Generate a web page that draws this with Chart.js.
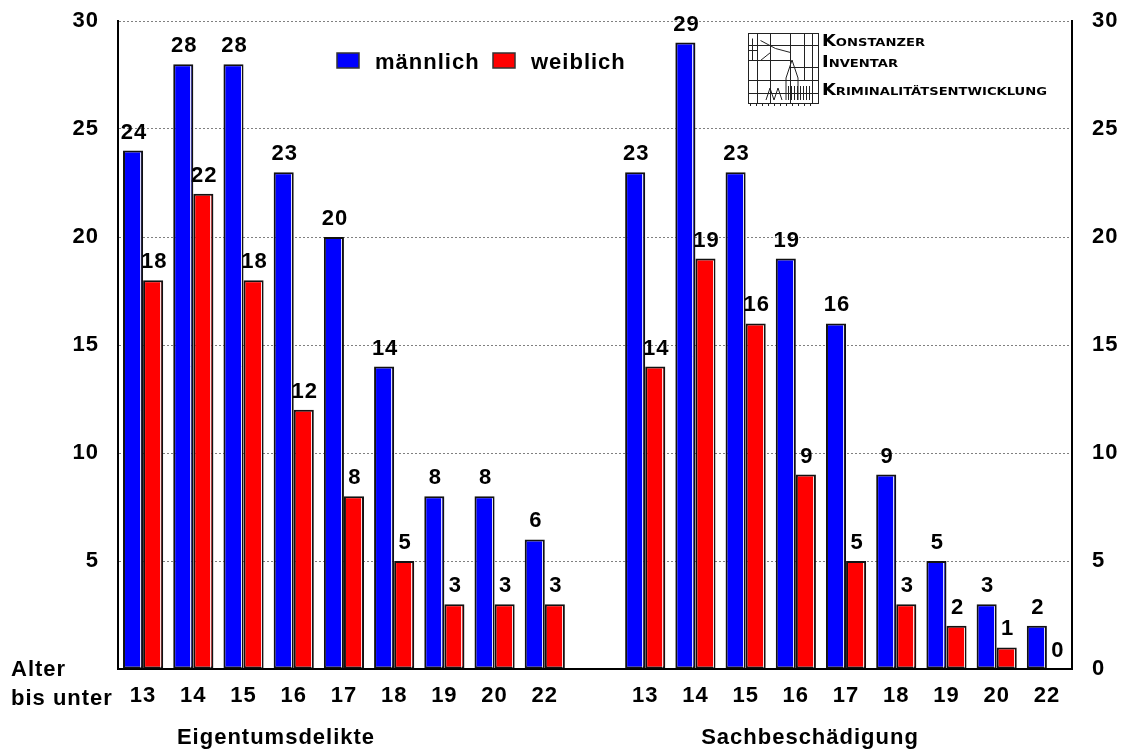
<!DOCTYPE html>
<html><head><meta charset="utf-8">
<script src="https://cdn.jsdelivr.net/npm/chart.js@4"></script>
<style>html,body{margin:0;padding:0;background:#fff}#wrap{width:1127px;height:749px}</style>
</head><body><div id="wrap"><canvas id="c" width="1127" height="749"></canvas></div>
<script>
const categories = ['13','14','15','16','17','18','19','20','22','','13','14','15','16','17','18','19','20','22'];
const maleValues = [24,28,28,23,20,14,8,8,6,null,23,29,23,19,16,9,5,3,2];
const femaleValues = [18,22,18,12,8,5,3,3,3,null,14,19,16,9,5,3,2,1,0];
const seriesNames = ['männlich','weiblich'];
const seriesColors = ['#0000ff','#ff0000'];
const groupTitles = ['Eigentumsdelikte','Sachbeschädigung'];
const axisTitleLines = ['Alter','bis unter'];
const logoLines = ['Konstanzer','Inventar','Kriminalitätsentwicklung'];

const FONT = 'Liberation Sans';
const tickFont = {family: FONT, size: 22, weight: 'bold'};
const SPACING = '1px';

const overlay = {
  id: 'overlay',
  beforeUpdate(chart) { chart.ctx.letterSpacing = SPACING; },
  beforeDraw(chart) { chart.ctx.letterSpacing = SPACING; },
  afterDatasetsDraw(chart) {
    const ctx = chart.ctx;
    ctx.save();
    // white inner highlight on bars
    chart.data.datasets.forEach((ds, di) => {
      const meta = chart.getDatasetMeta(di);
      meta.data.forEach((el, i) => {
        const v = ds.data[i];
        if (v == null || v === 0) return;
        const p = el.getProps(['x','y','base','width'], true);
        ctx.strokeStyle = 'rgba(255,255,255,0.85)';
        ctx.lineWidth = 1;
        ctx.beginPath();
        const xr = Math.round(p.x + p.width / 2 - 3) + 0.5;
        ctx.moveTo(xr, p.y + 2);
        ctx.lineTo(xr, p.base - 1);
        ctx.stroke();
      });
    });
    // value labels
    ctx.letterSpacing = SPACING;
    ctx.fillStyle = '#000';
    ctx.font = 'bold 22px "' + FONT + '"';
    ctx.textAlign = 'center';
    ctx.textBaseline = 'alphabetic';
    chart.data.datasets.forEach((ds, di) => {
      const meta = chart.getDatasetMeta(di);
      meta.data.forEach((el, i) => {
        const v = ds.data[i];
        if (v == null) return;
        const p = el.getProps(['x','y'], true);
        ctx.fillText(String(v), p.x + 1, p.y - 12);
      });
    });
    ctx.restore();
  },
  afterDraw(chart) {
    const ctx = chart.ctx;
    ctx.save();
    ctx.letterSpacing = SPACING;
    // legend
    ctx.font = 'bold 22px "' + FONT + '"';
    ctx.textBaseline = 'alphabetic';
    ctx.textAlign = 'left';
    const legendX = [337, 493];
    seriesNames.forEach((name, i) => {
      const bx = legendX[i], by = 53;
      ctx.fillStyle = seriesColors[i];
      ctx.fillRect(bx, by, 22, 15);
      ctx.strokeStyle = '#333';
      ctx.lineWidth = 1.5;
      ctx.strokeRect(bx, by, 22, 15);
      ctx.fillStyle = '#000';
      ctx.fillText(name, bx + 38, 69);
    });
    // axis title at left
    ctx.fillText(axisTitleLines[0], 11, 676);
    ctx.fillText(axisTitleLines[1], 11, 705);
    // group titles
    ctx.textAlign = 'center';
    ctx.fillText(groupTitles[0], 276, 744);
    ctx.fillText(groupTitles[1], 810, 744);

    // logo graphic
    ctx.strokeStyle = '#222';
    ctx.lineWidth = 1;
    const L = 748, T = 33, R = 818, B = 103;
    ctx.strokeRect(L + 0.5, T + 0.5, R - L, B - T);
    ctx.beginPath();
    [[757,T,757,B],[770,T,770,B],[790,T,790,B],[804,T,804,80],[812,T,812,B],
     [L,45,R,45],[L,60,790,60],[L,80,R,80],[L,93,R,93],[790,67,R,67],
     [760,40,775,48],[775,48,790,52],[760,60,770,52],[752,38,752,60],[748,50,757,50]].forEach(s => {
      ctx.moveTo(s[0] + 0.5, s[1] + 0.5); ctx.lineTo(s[2] + 0.5, s[3] + 0.5);
    });
    // spire
    ctx.moveTo(786, 100); ctx.lineTo(786, 78); ctx.lineTo(792, 60); ctx.lineTo(798, 78); ctx.lineTo(798, 100);
    for (let x = 788; x <= 810; x += 3) { ctx.moveTo(x + 0.5, 86); ctx.lineTo(x + 0.5, 100); }
    // zigzag
    ctx.moveTo(766, 100); ctx.lineTo(770, 88); ctx.lineTo(774, 100); ctx.lineTo(778, 88); ctx.lineTo(782, 100);
    for (let x = 750; x <= 815; x += 6) { ctx.moveTo(x + 0.5, 103); ctx.lineTo(x + 0.5, 106); }
    ctx.stroke();
    // logo text
    ctx.letterSpacing = '0px';
    ctx.fillStyle = '#000';
    ctx.textAlign = 'left';
    ctx.textBaseline = 'alphabetic';
    const targets = [[46, 925], [67, 898], [95, 1047]];
    logoLines.forEach((line, i) => {
      const first = line[0].toUpperCase();
      const rest = line.slice(1).toUpperCase();
      ctx.font = 'bold 15px "DejaVu Sans"';
      const w1 = ctx.measureText(first).width;
      ctx.font = 'bold 11px "DejaVu Sans"';
      const w2 = ctx.measureText(rest).width;
      const scale = (targets[i][1] - 822) / (w1 + w2);
      ctx.save();
      ctx.translate(822, targets[i][0]);
      ctx.scale(scale, 1);
      ctx.font = 'bold 15px "DejaVu Sans"';
      ctx.fillText(first, 0, 0);
      ctx.font = 'bold 11px "DejaVu Sans"';
      ctx.fillText(rest, w1, 0);
      ctx.restore();
    });
    ctx.restore();
  }
};

new Chart(document.getElementById('c'), {
  type: 'bar',
  data: {
    labels: categories,
    datasets: [
      {label: seriesNames[0], data: maleValues, backgroundColor: seriesColors[0]},
      {label: seriesNames[1], data: femaleValues, backgroundColor: seriesColors[1]}
    ]
  },
  options: {
    responsive: false,
    animation: false,
    events: [],
    datasets: {
      bar: {
        categoryPercentage: 0.8,
        barPercentage: 1.0,
        borderColor: '#111',
        borderWidth: c => (c.raw === 0 ? 0 : 2),
        borderSkipped: false
      }
    },
    layout: {padding: {top: 21, left: 0, right: 0, bottom: 0}},
    plugins: {legend: {display: false}, tooltip: {enabled: false}},
    scales: {
      x: {
        grid: {display: false, drawTicks: false},
        border: {color: '#000', width: 2},
        ticks: {font: tickFont, color: '#000', padding: 14, autoSkip: false, maxRotation: 0},
        afterFit(s) { s.height = 80; s.paddingLeft = 0; s.paddingRight = 0; }
      },
      y: {
        position: 'left',
        min: 0, max: 30,
        ticks: {stepSize: 5, font: tickFont, color: '#000', padding: 19,
                callback: v => (v === 0 ? '' : v)},
        grid: {color: c => (c.tick && c.tick.value === 0 ? 'rgba(0,0,0,0)' : '#808080'), lineWidth: 1, drawTicks: false},
        border: {color: '#000', width: 2, dash: [2, 2]},
        afterFit(s) { s.width = 118; s.paddingTop = 0; s.paddingBottom = 0; }
      },
      y2: {
        position: 'right',
        min: 0, max: 30,
        ticks: {stepSize: 5, font: tickFont, color: '#000', padding: 20},
        grid: {display: false, drawTicks: false},
        border: {color: '#000', width: 2},
        afterFit(s) { s.width = 55; s.paddingTop = 0; s.paddingBottom = 0; }
      }
    }
  },
  plugins: [overlay]
});
</script>
</body></html>
